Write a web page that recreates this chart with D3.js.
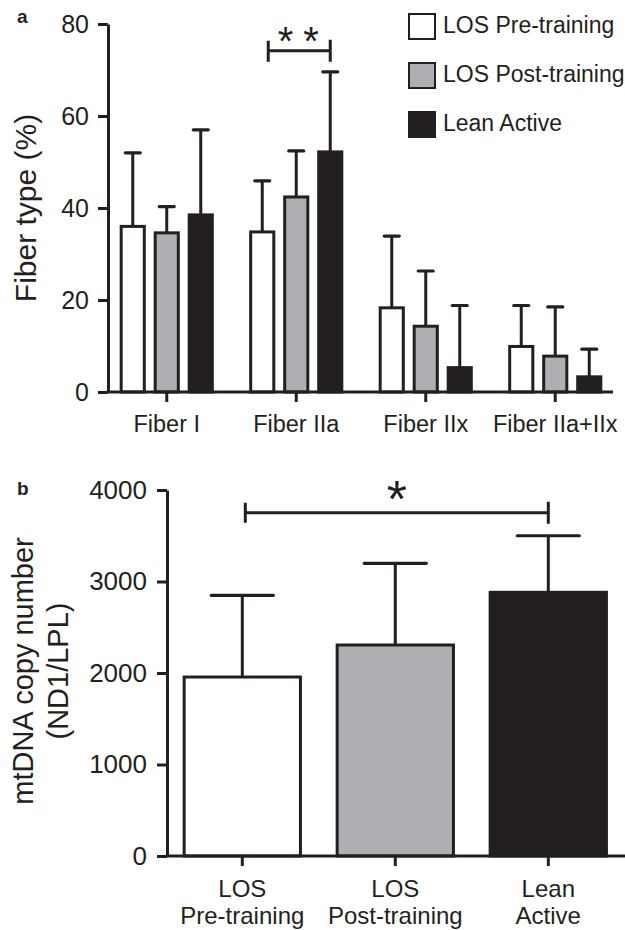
<!DOCTYPE html>
<html>
<head>
<meta charset="utf-8">
<script src="https://cdn.jsdelivr.net/npm/d3@7"></script>
<style>
  body { margin: 0; background: #fff; }
  svg { display: block; font-family: "Liberation Sans", Arial, sans-serif; }
  text { fill: #231f20; }
</style>
</head>
<body>
<div id="chart"></div>
<script>
// groups and fills
const groups = ["LOS Pre-training", "LOS Post-training", "Lean Active"];
const fills = ["#ffffff", "#aeafb2", "#231f20"];

// panel a: fiber type (%), mean and SD per group
const fiberTypes = ["Fiber I", "Fiber IIa", "Fiber IIx", "Fiber IIa+IIx"];
const fiberPre = [36, 34.8, 18.3, 9.9];
const fiberPreSd = [16, 11.1, 15.6, 8.9];
const fiberPost = [34.6, 42.4, 14.3, 7.8];
const fiberPostSd = [5.7, 10, 12, 10.7];
const fiberLean = [38.5, 52.2, 5.3, 3.3];
const fiberLeanSd = [18.5, 17.4, 13.5, 6];
const fiberTicks = [0, 20, 40, 60, 80];

// panel b: mtDNA copy number
const mtLabels = [["LOS", "Pre-training"], ["LOS", "Post-training"], ["Lean", "Active"]];
const mtMean = [1956, 2306, 2882];
const mtSd = [893, 893, 618];
const mtTicks = [0, 1000, 2000, 3000, 4000];

const ink = "#231f20";
const W = 625, H = 930;

const svg = d3.select("#chart").append("svg")
    .attr("width", W)
    .attr("height", H);

// ---------------- panel a ----------------
const yA = d3.scaleLinear().domain([0, 80]).range([392, 24]);
const xA = d3.scaleBand().domain(fiberTypes).range([102, 620]);
const subA = d3.scaleBand().domain(groups).range([-51, 51]).paddingInner(0.32).paddingOuter(0.16);

const fiberRows = [];
fiberTypes.forEach((f, i) => {
    fiberRows.push({type: f, group: groups[0], mean: fiberPre[i], sd: fiberPreSd[i]});
    fiberRows.push({type: f, group: groups[1], mean: fiberPost[i], sd: fiberPostSd[i]});
    fiberRows.push({type: f, group: groups[2], mean: fiberLean[i], sd: fiberLeanSd[i]});
});
const barXA = d => xA(d.type) + xA.bandwidth() / 2 + subA(d.group);
const midXA = d => barXA(d) + subA.bandwidth() / 2;

const gA = svg.append("g");

// error bars (upper only)
gA.selectAll(".errA")
    .data(fiberRows)
  .enter().append("line")
    .attr("x1", midXA).attr("x2", midXA)
    .attr("y1", d => yA(d.mean)).attr("y2", d => yA(d.mean + d.sd))
    .attr("stroke", ink).attr("stroke-width", 3);
gA.selectAll(".capA")
    .data(fiberRows)
  .enter().append("line")
    .attr("x1", d => midXA(d) - 7.5).attr("x2", d => midXA(d) + 7.5)
    .attr("y1", d => yA(d.mean + d.sd)).attr("y2", d => yA(d.mean + d.sd))
    .attr("stroke", ink).attr("stroke-width", 3.2).attr("stroke-linecap", "round");

gA.selectAll(".barA")
    .data(fiberRows)
  .enter().append("rect")
    .attr("x", barXA)
    .attr("width", subA.bandwidth())
    .attr("y", d => yA(d.mean))
    .attr("height", d => yA(0) - yA(d.mean))
    .attr("fill", d => fills[groups.indexOf(d.group)])
    .attr("stroke", ink).attr("stroke-width", 3);

// y axis a
const axA = gA.append("g")
    .attr("transform", "translate(108,0)")
    .call(d3.axisLeft(yA).tickValues(fiberTicks).tickSize(10).tickSizeOuter(0).tickPadding(9))
    .attr("font-family", null).attr("font-size", null);
axA.select(".domain").attr("stroke", ink).attr("stroke-width", 3);
axA.selectAll(".tick line").attr("stroke", ink).attr("stroke-width", 3);
axA.selectAll(".tick text").attr("font-size", 25).style("fill", ink);

// x axis a
const axXA = gA.append("g")
    .attr("transform", `translate(0,${yA(0)})`)
    .call(d3.axisBottom(xA).tickSize(10).tickSizeOuter(0))
    .attr("font-family", null).attr("font-size", null);
axXA.select(".domain").remove();
axXA.selectAll(".tick line").attr("stroke", ink).attr("stroke-width", 3);
axXA.selectAll(".tick text").attr("font-size", 23.5)
    .attr("y", 40).attr("dy", 0).style("fill", ink);
gA.append("line")
    .attr("x1", 106.5).attr("x2", 613)
    .attr("y1", yA(0)).attr("y2", yA(0))
    .attr("stroke", ink).attr("stroke-width", 3);

// y label a
gA.append("text")
    .attr("transform", "translate(36,208) rotate(-90)")
    .attr("text-anchor", "middle")
    .attr("font-size", 30)
    .text("Fiber type (%)");

// significance a: Pre vs Lean in Fiber IIa
const sigA = {type: "Fiber IIa", value: 74.2};
const sAx1 = xA(sigA.type) + xA.bandwidth() / 2 + subA(groups[0]) + subA.bandwidth() / 2 + 6;
const sAx2 = xA(sigA.type) + xA.bandwidth() / 2 + subA(groups[2]) + subA.bandwidth() / 2;
const sAy = yA(sigA.value);
gA.append("path")
    .attr("d", `M${sAx1},${sAy - 10}V${sAy + 11}M${sAx1},${sAy}H${sAx2}M${sAx2},${sAy - 11}V${sAy + 11}`)
    .attr("fill", "none").attr("stroke", ink).attr("stroke-width", 3);
gA.append("text")
    .attr("x", (sAx1 + sAx2) / 2 + 4).attr("y", 55)
    .attr("text-anchor", "middle")
    .attr("font-size", 40)
    .attr("letter-spacing", 10)
    .text("**");

// legend
const leg = gA.selectAll(".leg")
    .data(groups)
  .enter().append("g")
    .attr("transform", (d, i) => `translate(409,${14 + i * 49})`);
leg.append("rect")
    .attr("width", 26).attr("height", 25)
    .attr("fill", (d, i) => fills[i])
    .attr("stroke", ink).attr("stroke-width", 2);
leg.append("text")
    .attr("x", 34).attr("y", 19)
    .attr("font-size", 23)
    .text(d => d);

// panel label
svg.append("text").attr("x", 17).attr("y", 23)
    .attr("font-size", 19).attr("font-weight", "bold").text("a");

// ---------------- panel b ----------------
const yB = d3.scaleLinear().domain([0, 4000]).range([856, 490]);
const xB = d3.scaleBand().domain(groups).range([165.8, 624.8]).paddingInner(0.24).paddingOuter(0.12);
const mtRows = groups.map((g, i) => ({group: g, mean: mtMean[i], sd: mtSd[i], label: mtLabels[i]}));
const midXB = d => xB(d.group) + xB.bandwidth() / 2;

const gB = svg.append("g");

gB.selectAll(".errB")
    .data(mtRows)
  .enter().append("line")
    .attr("x1", midXB).attr("x2", midXB)
    .attr("y1", d => yB(d.mean)).attr("y2", d => yB(d.mean + d.sd))
    .attr("stroke", ink).attr("stroke-width", 3);
gB.selectAll(".capB")
    .data(mtRows)
  .enter().append("line")
    .attr("x1", d => midXB(d) - 31).attr("x2", d => midXB(d) + 31)
    .attr("y1", d => yB(d.mean + d.sd)).attr("y2", d => yB(d.mean + d.sd))
    .attr("stroke", ink).attr("stroke-width", 3.2).attr("stroke-linecap", "round");

gB.selectAll(".barB")
    .data(mtRows)
  .enter().append("rect")
    .attr("x", d => xB(d.group))
    .attr("width", xB.bandwidth())
    .attr("y", d => yB(d.mean))
    .attr("height", d => yB(0) - yB(d.mean))
    .attr("fill", (d, i) => fills[i])
    .attr("stroke", ink).attr("stroke-width", 3);

const axB = gB.append("g")
    .attr("transform", "translate(167,0)")
    .call(d3.axisLeft(yB).tickValues(mtTicks).tickFormat(d3.format("d")).tickSize(10).tickSizeOuter(0).tickPadding(10))
    .attr("font-family", null).attr("font-size", null);
axB.select(".domain").attr("stroke", ink).attr("stroke-width", 3);
axB.selectAll(".tick line").attr("stroke", ink).attr("stroke-width", 3);
axB.selectAll(".tick text").attr("font-size", 26).style("fill", ink);

const axXB = gB.append("g")
    .attr("transform", `translate(0,${yB(0)})`)
    .call(d3.axisBottom(xB).tickSize(10).tickSizeOuter(0).tickFormat(""));
axXB.select(".domain").remove();
axXB.selectAll(".tick line").attr("stroke", ink).attr("stroke-width", 3);
gB.append("line")
    .attr("x1", 165.5).attr("x2", 625)
    .attr("y1", yB(0)).attr("y2", yB(0))
    .attr("stroke", ink).attr("stroke-width", 3);

// two-line category labels
const xl = gB.selectAll(".xlabB")
    .data(mtRows)
  .enter().append("text")
    .attr("text-anchor", "middle")
    .attr("font-size", 24);
xl.append("tspan").attr("x", midXB).attr("y", 897).text(d => d.label[0]);
xl.append("tspan").attr("x", midXB).attr("y", 924).text(d => d.label[1]);

// y label b
const ylb = gB.append("text")
    .attr("transform", "translate(0,671) rotate(-90)")
    .attr("text-anchor", "middle")
    .attr("font-size", 29);
ylb.append("tspan").attr("x", 0).attr("y", 33).text("mtDNA copy number");
ylb.append("tspan").attr("x", 0).attr("y", 68).text("(ND1/LPL)");

// significance b: Pre vs Lean
const sBy = yB(3752);
const sBx1 = midXB(mtRows[0]) + 3;
const sBx2 = midXB(mtRows[2]);
gB.append("path")
    .attr("d", `M${sBx1},${sBy - 10}V${sBy + 10}M${sBx1},${sBy}H${sBx2}M${sBx2},${sBy - 11}V${sBy + 11}`)
    .attr("fill", "none").attr("stroke", ink).attr("stroke-width", 3);
gB.append("text")
    .attr("x", (sBx1 + sBx2) / 2).attr("y", 517)
    .attr("text-anchor", "middle")
    .attr("font-size", 52)
    .text("*");

svg.append("text").attr("x", 17).attr("y", 495)
    .attr("font-size", 19).attr("font-weight", "bold").text("b");
</script>
</body>
</html>
